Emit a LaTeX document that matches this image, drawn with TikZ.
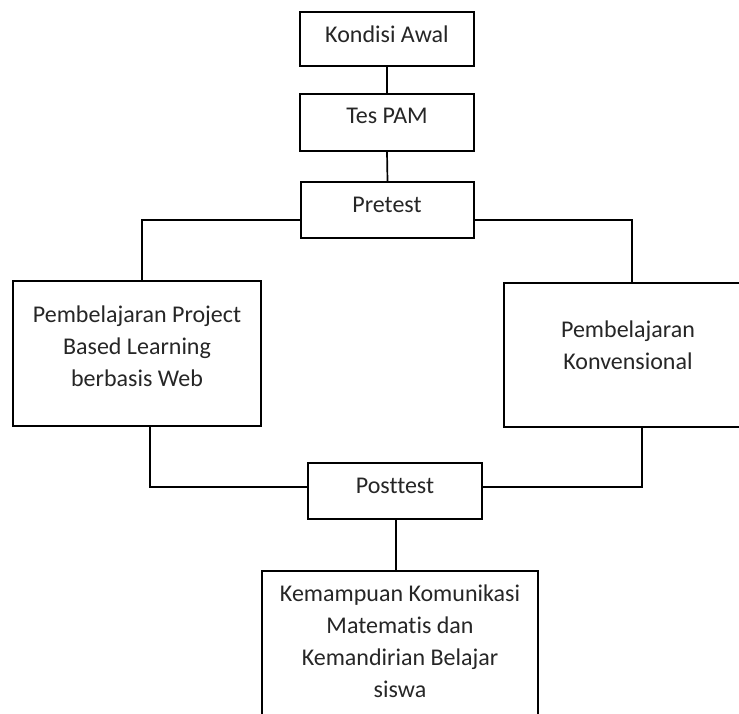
\documentclass[tikz,border=0pt]{standalone}
\usepackage{fontspec}
\setmainfont[Ligatures=NoCommon]{Carlito}
\begin{document}
\begin{tikzpicture}[x=1pt,y=-1pt,
  box/.style={draw,line width=1.7pt,inner sep=0pt},
  txt/.style={font=\fontsize{24pt}{32pt}\selectfont,text=black!85,align=center,inner sep=0pt},
  conn/.style={line width=1.7pt}]
\clip (0,0) rectangle (739,713);
\fill[white] (0,0) rectangle (739,713);
% boxes
\node[box,minimum width=174pt,minimum height=54pt] (ka) at (387,39) {};
\node[box,minimum width=174pt,minimum height=57pt] (tp) at (387,122.5) {};
\node[box,minimum width=173pt,minimum height=56pt] (pre) at (387.5,210) {};
\node[box,minimum width=248pt,minimum height=145pt] (lb) at (137,353.5) {};
\node[box,minimum width=250pt,minimum height=144pt] (rb) at (629,355) {};
\node[box,minimum width=174pt,minimum height=56pt] (post) at (395,491) {};
\node[box,minimum width=276pt,minimum height=180pt,anchor=north] (res) at (400,570) {};
% texts
\node[txt] (tka) at (387,34) {Kondisi Awal};
\node[txt] (ttp) at (387,116) {Tes PAM};
\node[txt] (tpre) at (387,205) {Pretest};
\node[txt] (tlb) at (137,346) {Pembelajaran Project\\Based Learning\\berbasis Web};
\node[txt] (trb) at (628,345) {Pembelajaran\\Konvensional};
\node[txt] (tpost) at (395,486) {Posttest};
\node[txt] (tres) at (400,641) {Kemampuan Komunikasi\\Matematis dan\\Kemandirian Belajar\\siswa};
% connectors
\draw[conn] (ka.south) -- (tp.north);
\draw[conn] (tp.south) -- (pre.north);
\draw[conn] ([yshift=-10pt]pre.west) -| ([xshift=5pt]lb.north);
\draw[conn] ([yshift=-10pt]pre.east) -| ([xshift=3pt]rb.north);
\draw[conn] ([xshift=13pt]lb.south) |- ([yshift=4pt]post.west);
\draw[conn] ([xshift=13pt]rb.south) |- ([yshift=4pt]post.east);
\draw[conn] ([xshift=1pt]post.south) -- ([xshift=1pt]post.south |- res.north);
\end{tikzpicture}
\end{document}
